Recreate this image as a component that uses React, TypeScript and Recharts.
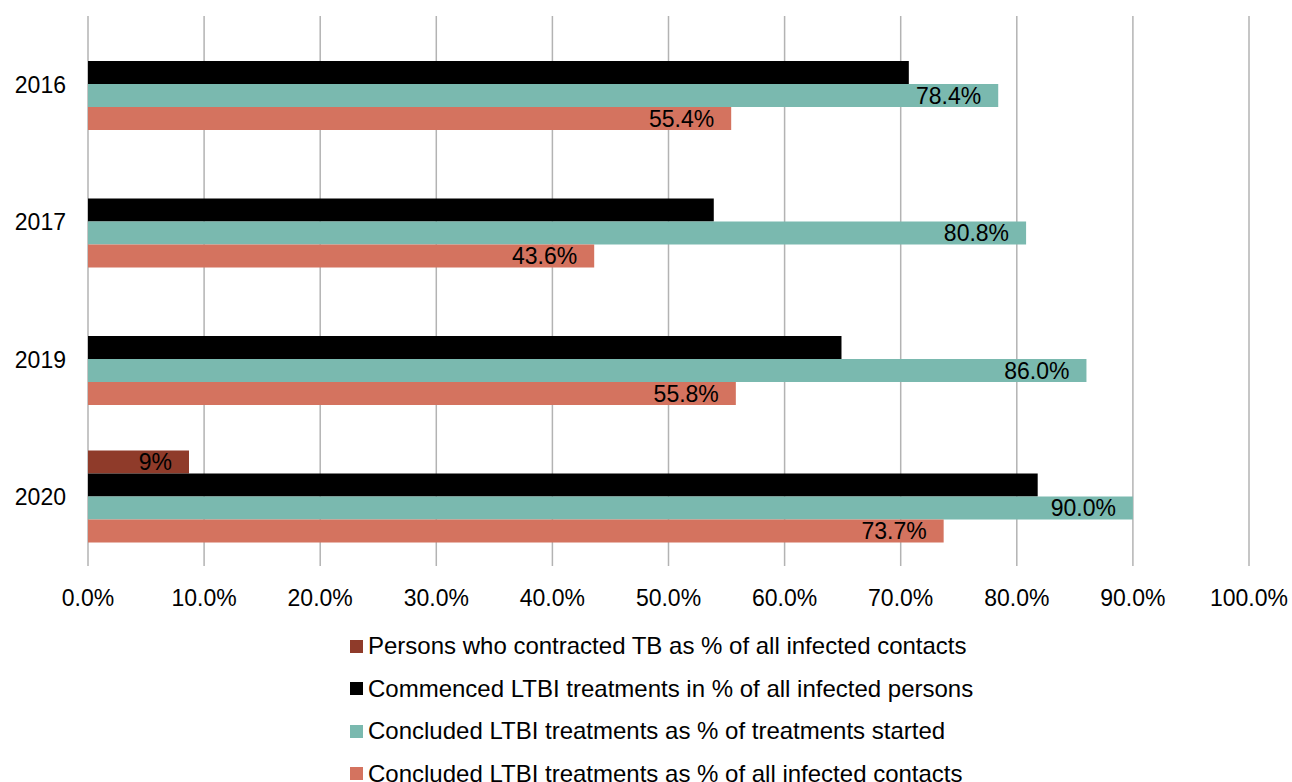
import React from 'react';
import { BarChart, Bar, XAxis, YAxis, CartesianGrid, Legend, LabelList } from 'recharts';

const categories = ['2016', '2017', '2019', '2020'];
const contractedTB: (number | null)[] = [null, null, null, 8.7];
const commencedLTBI = [70.7, 53.9, 64.9, 81.8];
const concludedOfStarted = [78.4, 80.8, 86.0, 90.0];
const concludedOfAll = [55.4, 43.6, 55.8, 73.7];
const xTicks = [0, 10, 20, 30, 40, 50, 60, 70, 80, 90, 100];

const seriesNames = [
  'Persons who contracted TB as % of all infected contacts',
  'Commenced LTBI treatments in % of all infected persons',
  'Concluded LTBI treatments as % of treatments started',
  'Concluded LTBI treatments as % of all infected contacts',
];
const seriesColors = ['#8f3b2a', '#000000', '#7ab9af', '#d4735f'];

const data = categories.map((c, i) => ({
  year: c,
  s0: contractedTB[i],
  s1: commencedLTBI[i],
  s2: concludedOfStarted[i],
  s3: concludedOfAll[i],
}));

const FONT = '"Liberation Sans", Arial, sans-serif';

const LegendContent = () => (
  <div style={{ fontFamily: FONT, fontSize: 24, color: '#000' }}>
    {seriesNames.map((n, i) => (
      <div key={n} style={{ height: 42.5, display: 'flex', alignItems: 'center', whiteSpace: 'nowrap' }}>
        <span style={{ display: 'inline-block', width: 13, height: 13, background: seriesColors[i], marginRight: 5 }} />
        <span>{n}</span>
      </div>
    ))}
  </div>
);

const pct1 = (v: any) => (v == null ? '' : `${Number(v).toFixed(1)}%`);
const pct0 = (v: any) => (v == null ? '' : `${Math.round(Number(v))}%`);

export default function App() {
  return (
    <div style={{ position: 'absolute', left: 0, top: 0, background: '#fff' }}>
      <BarChart
        width={1292}
        height={782}
        data={data}
        layout="vertical"
        margin={{ top: 16, right: 43, left: 0, bottom: 166 }}
        barCategoryGap={22}
        barGap={0}
      >
        <CartesianGrid vertical={true} horizontal={false} stroke="#b3b3b3" strokeWidth={1.5} />
        <XAxis
          type="number"
          domain={[0, 100]}
          ticks={xTicks}
          tickFormatter={pct1}
          axisLine={false}
          tickLine={false}
          tickSize={0}
          tickMargin={24}
          height={50}
          tick={{ fill: '#000', fontSize: 23, fontFamily: FONT }}
          interval={0}
        />
        <YAxis
          type="category"
          dataKey="year"
          width={88}
          axisLine={false}
          tickLine={false}
          tickSize={0}
          tickMargin={22}
          tick={{ fill: '#000', fontSize: 23, fontFamily: FONT }}
        />
        <Legend
          layout="vertical"
          align="center"
          verticalAlign="middle"
          wrapperStyle={{ top: 625, left: 350, width: 760, height: 157 }}
          content={<LegendContent />}
        />
        <Bar dataKey="s0" name={seriesNames[0]} fill={seriesColors[0]} isAnimationActive={false}>
          <LabelList dataKey="s0" position="insideRight" offset={17} formatter={pct0} fill="#000" fontSize={23} fontFamily={FONT} />
        </Bar>
        <Bar dataKey="s1" name={seriesNames[1]} fill={seriesColors[1]} isAnimationActive={false} />
        <Bar dataKey="s2" name={seriesNames[2]} fill={seriesColors[2]} isAnimationActive={false}>
          <LabelList dataKey="s2" position="insideRight" offset={17} formatter={pct1} fill="#000" fontSize={23} fontFamily={FONT} />
        </Bar>
        <Bar dataKey="s3" name={seriesNames[3]} fill={seriesColors[3]} isAnimationActive={false}>
          <LabelList dataKey="s3" position="insideRight" offset={17} formatter={pct1} fill="#000" fontSize={23} fontFamily={FONT} />
        </Bar>
      </BarChart>
    </div>
  );
}
